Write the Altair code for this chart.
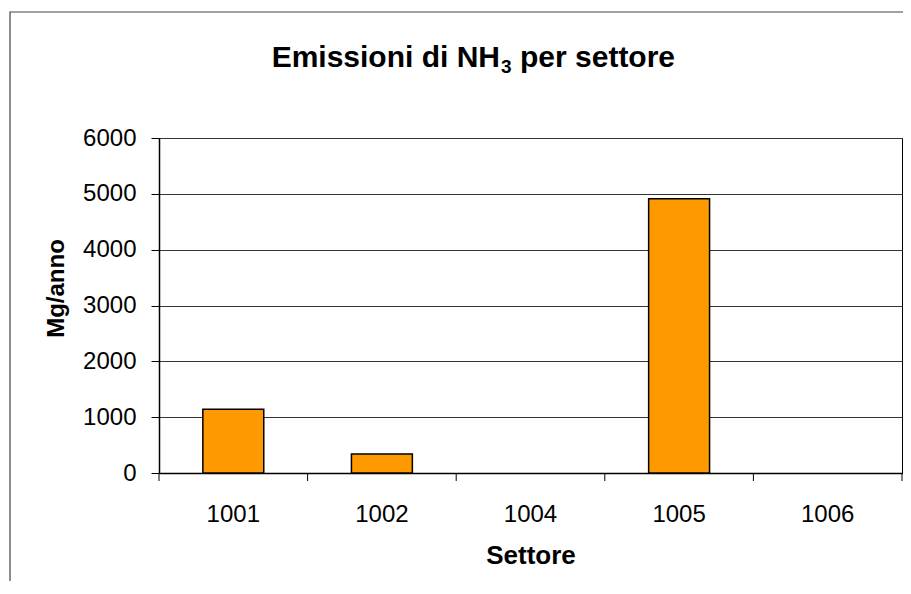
import altair as alt
import pandas as pd

# ---- data ----
categories = ["1001", "1002", "1004", "1005", "1006"]
values = [1140, 340, 0, 4910, 0]
y_ticks = [0, 1000, 2000, 3000, 4000, 5000, 6000]
title_parts = ["Emissioni di NH", "3", "per settore"]
x_title = "Settore"
y_title = "Mg/anno"

FONT = "Liberation Sans"
W, H = 743, 335

df = pd.DataFrame({"settore": categories, "valore": values})
bounds = pd.DataFrame({"b": list(range(len(categories) + 1))})
one = pd.DataFrame({"a": title_parts[:1], "b": title_parts[1:2], "c": title_parts[2:3]})

bars = alt.Chart(df).transform_filter("datum.valore > 0").mark_bar(
    color="#FF9900", stroke="black", strokeWidth=1.5
).encode(
    x=alt.X(
        "settore:N",
        sort=categories,
        scale=alt.Scale(domain=categories, paddingInner=0.59, paddingOuter=0.295),
        axis=alt.Axis(
            title=x_title, labelAngle=0, ticks=False, tickSize=0, labelPadding=48,
            labelBaseline="alphabetic", labelFontSize=24, labelFont=FONT, labelColor="black",
            domainColor="black", domainWidth=1.5, grid=False,
            titleFont=FONT, titleFontSize=26, titleFontWeight="bold", titleColor="black",
            titleY=90, titleBaseline="alphabetic",
        ),
    ),
    y=alt.Y(
        "valore:Q",
        scale=alt.Scale(domain=[0, 6000], nice=False),
        axis=alt.Axis(
            values=y_ticks, format="d", title=y_title,
            grid=True, gridColor="#333333", gridWidth=1,
            tickSize=8, tickColor="black", domainColor="black", domainWidth=1.5,
            labelPadding=15, labelFontSize=24, labelFont=FONT, labelColor="black",
            titleFont=FONT, titleFontSize=24, titleFontWeight="bold", titleColor="black",
            titleAngle=270, titleX=-96, titleY=150, titleAlign="center",
            titleBaseline="alphabetic",
        ),
    ),
)

xticks = alt.Chart(bounds).mark_rule(color="black", strokeWidth=1).encode(
    x=alt.X("b:Q", scale=alt.Scale(domain=[0, len(categories)], nice=False, zero=False), axis=None),
    y=alt.value(H),
    y2=alt.value(H + 8),
)

frame = alt.Chart(one).mark_rect(fillOpacity=0, stroke="#444444", strokeWidth=1.2).encode(
    x=alt.value(-149), x2=alt.value(W + 30), y=alt.value(-126), y2=alt.value(H + 150)
)

t_style = dict(font=FONT, fontWeight="bold", baseline="alphabetic", color="black")
title_a = alt.Chart(one).mark_text(fontSize=30, align="right", **t_style).encode(
    text="a:N", x=alt.value(341), y=alt.value(-71)
)
title_b = alt.Chart(one).mark_text(fontSize=19, align="left", **t_style).encode(
    text="b:N", x=alt.value(342), y=alt.value(-65)
)
title_c = alt.Chart(one).mark_text(fontSize=30, align="left", **t_style).encode(
    text="c:N", x=alt.value(361), y=alt.value(-71)
)

chart = (
    alt.layer(frame, bars, xticks, title_a, title_b, title_c)
    .resolve_scale(x="independent")
    .properties(
        width=W,
        height=H,
        autosize=alt.AutoSizeParams(type="none"),
        padding={"left": 151, "top": 130, "right": 1, "bottom": 108},
        background="white",
    )
    .configure_view(stroke="black", strokeWidth=1)
)

chart.save("out.html", embed_options={"renderer": "svg", "actions": False})
